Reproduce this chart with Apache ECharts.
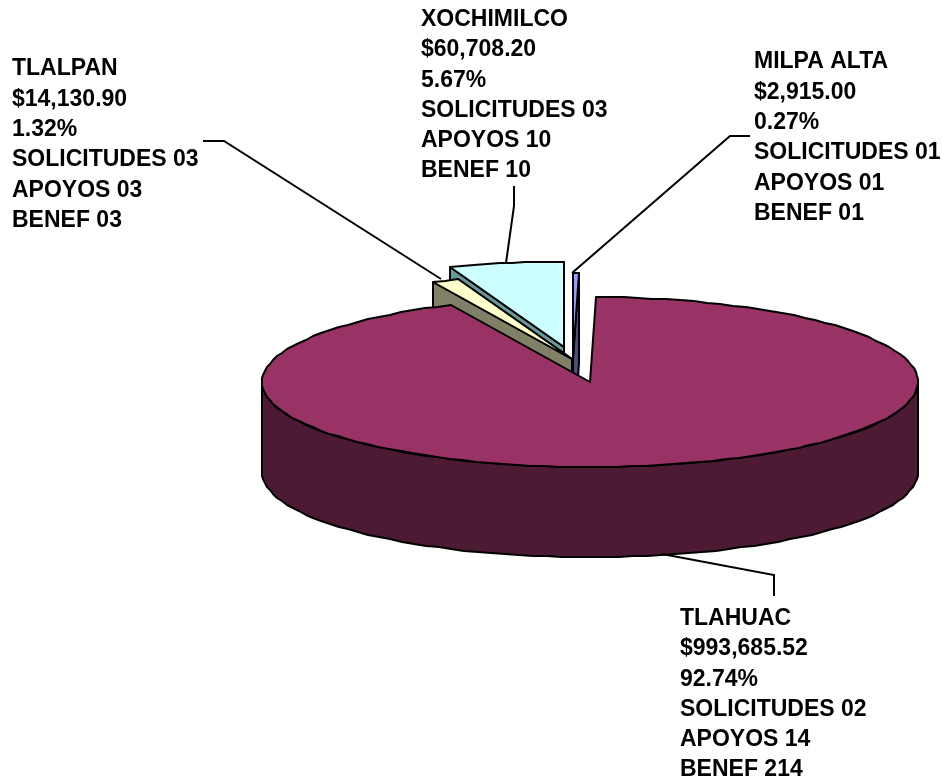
<!DOCTYPE html>
<html><head><meta charset="utf-8">
<style>html,body{margin:0;padding:0;background:#fff}#c{width:942px;height:781px}</style>
<script src="https://cdn.jsdelivr.net/npm/echarts@6/dist/echarts.min.js"></script>
</head><body><div id="c"></div>
<script>
// Data (clockwise from the first slice)
const names = ['TLAHUAC','TLALPAN','XOCHIMILCO','MILPA ALTA'];
const amounts = [993685.52,14130.90,60708.20,2915.00];
const amountLabels = ['$993,685.52','$14,130.90','$60,708.20','$2,915.00'];
const percentLabels = ['92.74%','1.32%','5.67%','0.27%'];
const solicitudes = ['02','03','03','01'];
const apoyos = ['14','03','10','01'];
const benef = ['214','03','10','01'];

// Style and layout
const topColors = ['#993366','#ffffcc','#ccffff','#9999ff'];
const sideColors = ['#4c1a33','#808066','#669999','#4d4d80'];
const drawRank = [4,2,1,3];
const explodeX = [0,-18,-26,-17];
const explodeY = [0,-23,-35.5,-24];
const labelPos = [[680,603.5],[12,54],[421,4.5],[754,47]];
const leaders = [
  [[662,554],[774,575],[774,596]],
  [[203,141],[224,141],[441,279]],
  [[514,186],[514,206],[506,263]],
  [[750,136],[730,136],[572,273]]
];
const CX=590, CY=382, RX=328, RY=85, DEPTH=90, START=0.98;
const FONT='"Liberation Sans", Arial, sans-serif';

const total = amounts.reduce((a,b)=>a+b,0);
function pt(ox,oy,deg,dz){
  const r=deg*Math.PI/180;
  return [Math.round(ox+RX*Math.sin(r)),Math.round(oy-RY*Math.cos(r)+(dz||0))];
}
function arc(ox,oy,a,b,dz){
  const n=Math.max(1,Math.ceil(Math.abs(b-a)/2.5)),out=[];
  for(let i=0;i<=n;i++) out.push(pt(ox,oy,a+(b-a)*i/n,dz));
  return out;
}
const edge={stroke:'#000',lineWidth:2,lineJoin:'round'};
function renderItem(params,api){
  const i=params.dataIndex, v=api.value(0);
  let before=0; for(let k=0;k<i;k++) before+=amounts[k];
  const a=START+before/total*360, b=a+v/total*360;
  const ox=CX+explodeX[i], oy=CY+explodeY[i];
  const base=drawRank[i]*10, kids=[];
  const poly=(points,fill,z)=>kids.push({type:'polygon',z2:base+z,shape:{points},
    style:Object.assign({fill},edge)});
  if(b-a<180){
    const apex=[Math.round(ox),Math.round(oy)], apexB=[apex[0],apex[1]+DEPTH];
    poly([apex,pt(ox,oy,b),pt(ox,oy,b,DEPTH),apexB],sideColors[i],0);
    poly([apex,pt(ox,oy,a),pt(ox,oy,a,DEPTH),apexB],sideColors[i],1);
  }
  const wa=Math.max(a,90), wb=Math.min(b,270);
  if(wb>wa){
    poly(arc(ox,oy,wa,wb,0).concat(arc(ox,oy,wb,wa,DEPTH)),sideColors[i],2);
  }
  poly([[Math.round(ox),Math.round(oy)]].concat(arc(ox,oy,a,b,0)),topColors[i],3);
  return {type:'group',children:kids};
}
function renderNotes(params,api){
  const i=params.dataIndex;
  return {type:'group',children:[
    {type:'polyline',z2:100,shape:{points:leaders[i]},style:{stroke:'#000',lineWidth:2,fill:null}},
    {type:'text',z2:101,x:labelPos[i][0],y:labelPos[i][1],style:{
      text:[names[i],amountLabels[i],percentLabels[i],'SOLICITUDES '+solicitudes[i],'APOYOS '+apoyos[i],'BENEF '+benef[i]].join('\n'),
      font:'bold 23px '+FONT,lineHeight:30.3,fill:'#000',textVerticalAlign:'top',textAlign:'left'}}
  ]};
}
const chart=echarts.init(document.getElementById('c'),null,{renderer:'canvas',width:942,height:781});
chart.setOption({
  backgroundColor:'#fff',animation:false,
  series:[
    {type:'custom',coordinateSystem:'none',silent:true,renderItem,data:amounts.map((v,i)=>({name:names[i],value:[v]}))},
    {type:'custom',coordinateSystem:'none',silent:true,renderItem:renderNotes,data:amounts.map((v,i)=>({name:names[i],value:[v]}))}
  ]
});
</script></body></html>
